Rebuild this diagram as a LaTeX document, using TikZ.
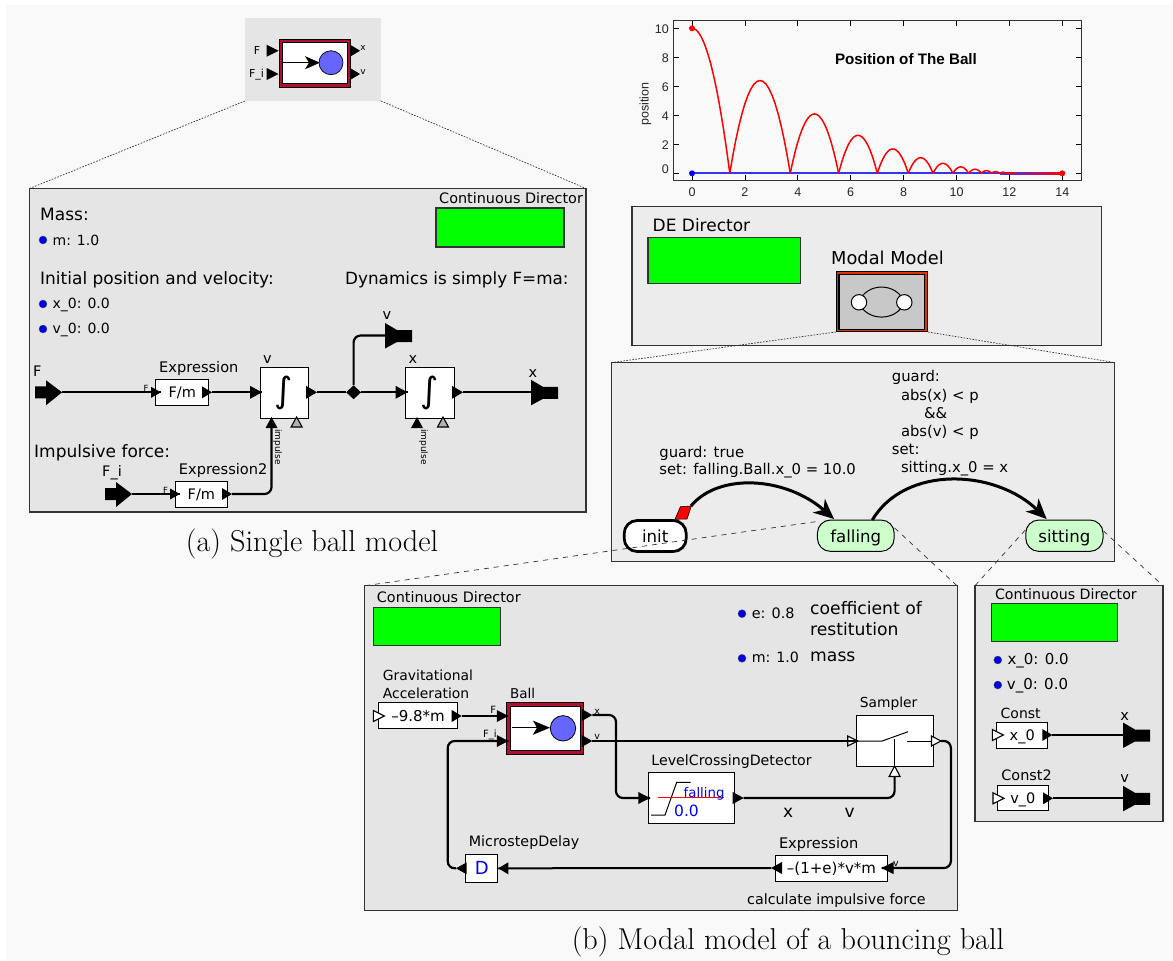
\documentclass[tikz,border=0pt]{standalone}
\usepackage{fontspec}
\setsansfont{DejaVu Sans}
\newfontfamily\plotfont{Liberation Sans}
\usetikzlibrary{arrows.meta,shapes.geometric}
\definecolor{bgpage}{HTML}{F9F9F9}
\definecolor{panelA}{HTML}{E5E5E5}
\definecolor{panelB}{HTML}{ECECEC}
\definecolor{dirgreen}{HTML}{00FF00}
\definecolor{ballred}{HTML}{B0102F}
\definecolor{ballblue}{HTML}{6666FF}
\definecolor{stategreen}{HTML}{CCFFCC}
\definecolor{modalred}{HTML}{DD3300}
\definecolor{modalgray}{HTML}{C8C8C8}
\definecolor{edgegray}{HTML}{333333}
\newcommand{\fsz}[1]{\fontsize{#1}{#1}\selectfont}
\newcommand{\vs}{\vphantom{Ag}}
% name, x, y, size, text : left-anchored label
\newcommand{\lbl}[5]{\node[txt,font=\sffamily\fsz{#4}] (#1) at (#2,#3) {\vs #5};}
% centred label
\newcommand{\clbl}[5]{\node[ctxt,font=\sffamily\fsz{#4}] (#1) at (#2,#3) {\vs #5};}
% horizontal port: name, tip x, y, dx (positive: points right), half height, style
\newcommand{\hport}[6]{\coordinate (#1) at (#2,#3); \path[#6] (#1) -- ++(-#4,-#5) -- ++(0,2*#5) -- cycle;}
% vertical port pointing up: name, x, tip y, height, half width, style
\newcommand{\vport}[6]{\coordinate (#1) at (#2,#3); \path[#6] (#1) -- ++(-#5,#4) -- ++(2*#5,0) -- cycle;}
\newcommand{\extin}[3]{\path[solidport] (#2,#3-6) -- ++(11,0) -- ++(0,-6) -- ++(16,12) -- ++(-16,13) -- ++(0,-7) -- ++(-11,0) -- cycle; \coordinate (#1) at (#2+27,#3);}
\newcommand{\extout}[3]{\coordinate (#1) at (#2,#3); \path[solidport] (#2,#3-12.5) -- ++(12,7) -- ++(15,0) -- ++(0,12) -- ++(-15,0) -- ++(-12,6.5) -- cycle;}
\newcommand{\dotp}[3]{\node[pdot] (#1) at (#2,#3) {};}
\begin{document}
\begin{tikzpicture}[x=1pt,y=-1pt,
  txt/.style={anchor=west,inner sep=0pt,text=black,yshift=-1.8pt},
  ctxt/.style={anchor=center,inner sep=0pt,text=black,yshift=-1.8pt},
  panela/.style={draw=edgegray,fill=panelA,line width=1.2pt},
  panelb/.style={draw=edgegray,fill=panelB,line width=1.2pt},
  director/.style={draw=edgegray,fill=dirgreen,line width=1.1pt},
  actor/.style={draw=black,fill=white,line width=.9pt,text depth=0pt},
  wire/.style={draw=black,line width=2pt},
  bendwire/.style={draw=black,line width=2.2pt,rounded corners=7pt},
  solidport/.style={fill=black},
  hollowport/.style={draw=black,fill=white,line width=1.1pt},
  grayport/.style={draw=black,fill=gray!60,line width=1.1pt},
  pdot/.style={circle,fill=blue!90!black,draw=black!70,line width=.3pt,minimum size=8pt,inner sep=0pt},
  dottedlink/.style={draw=black!80,line width=.7pt,dash pattern=on 1.6pt off 1.4pt},
  dashedlink/.style={draw=black!80,line width=.7pt,dash pattern=on 5pt off 5pt},
  plottext/.style={inner sep=0pt,font=\plotfont\fsz{12.5},text=black!85},
  tick/.style={draw=black,line width=.8pt},
  stateg/.style={draw=black,fill=stategreen,line width=1pt,rounded corners=13pt,text depth=0pt},
  trans/.style={draw=black,line width=3pt,-{Stealth[length=20pt,width=18pt,inset=6pt]}},
  caption/.style={inner sep=0pt,anchor=center}]
\useasboundingbox (0,0) rectangle (1173,961);
\fill[white] (0,0) rectangle (1173,961);
\fill[bgpage] (6,5) rectangle (1173,961);

%% ---------- thumbnail ball ----------
\fill[panelA] (245,18) rectangle (381,101);
\draw[dottedlink] (245,101) -- (29.5,188.5);
\draw[dottedlink] (381,101) -- (586,188.5);
\filldraw[draw=black,fill=ballred,line width=.5pt] (278.8,38.8) rectangle (350,87);
\filldraw[draw=black,fill=white,line width=.5pt] (282,42) rectangle (347,83);
\draw[line width=1.5pt,-{Stealth[length=15pt,width=13pt,inset=4pt]}] (283,62.7) -- (320,62.7);
\draw[fill=ballblue,draw=black,line width=.7pt] (331,62.7) circle [radius=12pt];
\hport{thF}{278.6}{50.7}{12}{6}{solidport}
\hport{thFi}{278.6}{74}{12}{6}{solidport}
\hport{thX}{360}{50.7}{10}{6}{solidport}
\hport{thV}{360}{74}{10}{6}{solidport}
\clbl{lthF}{257}{50}{11}{F}
\clbl{lthFi}{256.5}{73}{11}{F\_i}
\clbl{lthX}{363}{46}{9}{x}
\clbl{lthV}{363}{70}{9}{v}

%% ---------- plot ----------
\draw[edgegray,line width=1pt] (673.6,20.7) rectangle (1081.4,180);
\foreach \k in {0,2,...,14}{
  \draw[tick] ({692+26.45*\k},180) -- ++(0,-5);
  \draw[tick] ({692+26.45*\k},20.7) -- ++(0,5);
  \node[plottext] at ({692+26.45*\k},191.7) {\k};
}
\foreach \k/\ly in {0/169.3,2/145.3,4/116.3,6/87.3,8/58.3,10/29.3}{
  \draw[tick] (673.6,{173.3-14.5*\k}) -- ++(5,0);
  \draw[tick] (1081.4,{173.3-14.5*\k}) -- ++(-5,0);
  \node[plottext,anchor=east] at (669,\ly) {\k};
}
\node[plottext,rotate=90] (plotylab) at (645.4,104) {position};
\node[inner sep=0pt,font=\plotfont\bfseries\fsz{15.2}] (plottitle) at (906,58.7) {Position of The Ball};
\fill[blue!80] (692,172.3) rectangle (1062.3,174.3);
\shade[left color=blue!80,right color=red] (1000,172.3) rectangle (1062.3,174.3);
\draw[red,line width=1.5pt,line join=round] plot[domain=0:1,samples=30] ({692+26.45*1.4286*\x},{173.3-145*(1-\x*\x)});
\foreach \s/\T/\h in {1.4286/2.2857/6.4,3.7143/1.8286/4.096,5.5429/1.4629/2.621,7.0057/1.1703/1.678,8.1760/.9362/1.074,9.1122/.7490/.687,9.8612/.5992/.44,10.4604/.4794/.281,10.9398/.3835/.18,11.3233/.3068/.115,11.6301/.2454/.074,11.8755/.1964/.047,12.0719/.157/.03}{
  \draw[red,line width=1.5pt,line join=round] plot[domain=0:1,samples=21] ({692+26.45*(\s+\T*\x)},{173.3-14.5*\h*4*\x*(1-\x)});
}
\fill[red] (692,28.3) circle [radius=3pt];
\fill[blue] (692,173.3) circle [radius=3pt];
\fill[red] (1062.3,173.3) circle [radius=3pt];

%% ---------- panel (a) ----------
\path[panela] (29.5,188.7) rectangle (586,512);
\lbl{tCDa}{439}{198}{14.4}{Continuous Director}
\path[director] (436,208) rectangle (564,247);
\lbl{tMass}{40}{214}{17}{Mass:}
\dotp{dM}{43}{240}
\lbl{tM}{52.5}{239.5}{14}{m: 1.0}
\lbl{tInit}{40}{278}{17}{Initial position and velocity:}
\lbl{tDyn}{345}{278}{16.8}{Dynamics is simply F=ma:}
\dotp{dX}{43}{304}
\lbl{tX}{52.5}{303}{14}{x\_0: 0.0}
\dotp{dV}{43}{329}
\lbl{tV}{52.5}{328}{14}{v\_0: 0.0}
\lbl{tF}{33}{370.7}{14.5}{F}
\extin{inF}{35}{392.3}
\node[actor,minimum width=52.8pt,minimum height=25.6pt,inner sep=0pt,font=\sffamily\fsz{14.5}] (ex1) at (182.2,392.5) {F/m};
\lbl{tEx1}{159}{367}{14.6}{Expression}
\hport{ex1in}{161}{392.3}{10}{5.5}{solidport}
\hport{ex1out}{212}{392.3}{10}{6}{solidport}
\clbl{tEx1F}{146}{387}{8.5}{F}
\node[actor,minimum width=48.5pt,minimum height=51pt,inner sep=0pt] (int1) at (284.2,392.5) {};
\node[inner sep=0pt,font=\sffamily\fsz{35}] (int1s) at (284,393) {∫};
\node[actor,minimum width=49pt,minimum height=51pt,inner sep=0pt] (int2) at (430.2,392.5) {};
\node[inner sep=0pt,font=\sffamily\fsz{35}] (int2s) at (430,393) {∫};
\clbl{tv1}{267.5}{358}{14.5}{v}
\clbl{tx1}{413}{358}{14.5}{x}
\hport{i1in}{262}{392.3}{12}{6.5}{solidport}
\hport{i1out}{317}{392.3}{11}{6.5}{solidport}
\hport{i2in}{407.5}{392.3}{12}{6.5}{solidport}
\hport{i2out}{463}{392.3}{11}{6.5}{solidport}
\vport{i1imp}{271.5}{417}{11}{6}{solidport}
\vport{i2imp}{417}{417}{11}{6}{solidport}
\vport{i1trg}{296.6}{417}{10}{5.5}{grayport}
\vport{i2trg}{443}{417}{10}{5.5}{grayport}
\node[inner sep=0pt,rotate=-90,font=\sffamily\fsz{9}] (timp1) at (277.5,447) {impulse};
\node[inner sep=0pt,rotate=-90,font=\sffamily\fsz{9}] (timp2) at (423.5,447) {impulse};
\node[diamond,fill=black,minimum width=15pt,minimum height=14pt,inner sep=0pt] (dia) at (353.6,392.3) {};
\extout{outX}{531}{392.3}
\extout{outV}{385}{335.5}
\clbl{tXo}{533}{372}{14.5}{x}
\clbl{tVo}{387}{314}{14.5}{v}
\lbl{tImp}{34}{450.7}{17}{Impulsive force:}
\clbl{tFi}{112}{470.7}{14.5}{F\_i}
\extin{inFi}{105}{494}
\node[actor,minimum width=52.7pt,minimum height=25.4pt,inner sep=0pt,font=\sffamily\fsz{14.5}] (ex2) at (201.4,494.3) {F/m};
\lbl{tEx2}{178.7}{469}{14.6}{Expression2}
\hport{ex2in}{180}{494}{10}{5.5}{solidport}
\hport{ex2out}{232}{494}{10}{6}{solidport}
\clbl{tEx2F}{165.5}{489}{8.5}{F}
\draw[wire] (inF) -- (ex1in);
\draw[wire] (ex1out) -- (i1in);
\draw[wire] (i1out) -- (dia);
\draw[wire] (dia) -- (i2in);
\draw[wire] (i2out) -- (outX);
\draw[bendwire] (dia) |- (outV);
\draw[wire] (inFi) -- (ex2in);
\coordinate (i1impb) at (271.5,428);
\draw[bendwire] (ex2out) -| (i1impb);
\node[caption,font=\fsz{30.2}] (capa) at (312,543.5) {(a) Single ball model};

%% ---------- DE panel ----------
\path[panelb] (632,206.7) rectangle (1101.5,345.7);
\lbl{tDE}{652.5}{224.7}{17}{DE Director}
\path[director] (648,237.7) rectangle (800.6,283.7);
\lbl{tMM}{831}{258}{17.8}{Modal Model}
\node[draw=black,fill=modalred,line width=1.3pt,minimum width=91pt,minimum height=60pt,inner sep=0pt] (modal) at (882,301.8) {};
\node[draw=black,fill=modalgray,line width=1.3pt,minimum width=85.5pt,minimum height=55pt,inner sep=0pt] (modalin) at (881.8,302) {};
\draw[black,line width=1pt] (859,302.3) .. controls (866,282) and (897,282) .. (904.3,302.3);
\draw[black,line width=1pt] (859,302.3) .. controls (866,322) and (897,322) .. (904.3,302.3);
\draw[black,fill=white,line width=1pt] (859,302.3) circle [radius=7.7pt];
\draw[black,fill=white,line width=1pt] (904.3,302.3) circle [radius=7.7pt];
\draw[dottedlink] (836,332) -- (612,362.5);
\draw[dottedlink] (928,332) -- (1114.5,362.5);

%% ---------- modal panel ----------
\path[panelb] (611.7,362.7) rectangle (1114.6,561.3);
\lbl{g1}{891.7}{376}{14.8}{guard:}
\lbl{g2}{900.8}{394.7}{14.8}{abs(x) < p}
\lbl{g3}{923.8}{412.7}{14.8}{\&\&}
\lbl{g4}{900.8}{431}{14.8}{abs(v) < p}
\lbl{g5}{891.7}{449}{14.8}{set:}
\lbl{g6}{900.8}{467.3}{14.8}{sitting.x\_0 = x}
\lbl{g7}{659.2}{451.3}{14.8}{guard: true}
\lbl{g8}{659.2}{469.3}{14.8}{set: falling.Ball.x\_0 = 10.0}
\node[draw=black,fill=white,line width=2.8pt,rounded corners=13pt,minimum width=62pt,minimum height=31pt,inner sep=0pt,text depth=0pt,font=\sffamily\fsz{16.6}] (init) at (655.2,536) {init};
\node[stateg,minimum width=76.7pt,minimum height=31.3pt,inner sep=0pt,font=\sffamily\fsz{16.6}] (falling) at (855.8,535.7) {falling};
\node[stateg,minimum width=77.2pt,minimum height=31.3pt,inner sep=0pt,font=\sffamily\fsz{16.6}] (sitting) at (1064.4,535.7) {sitting};
\coordinate (tr1s) at (691,506);
\coordinate (tr1e) at (834,519);
\coordinate (tr2s) at (872.3,520);
\coordinate (tr2e) at (1046.6,519);
\draw[trans] (tr1s) .. controls (718,473) and (785,476) .. (tr1e);
\draw[trans] (tr2s) .. controls (905,465) and (995,469) .. (tr2e);
\filldraw[fill=red,draw=black,line width=.6pt] (675,519.3) -- (680.4,506.7) -- (691.4,506) -- (687,519) -- cycle;
\coordinate (zFa) at (365,585.7);
\coordinate (zFb) at (957,585.7);
\coordinate (zSa) at (975,585.7);
\coordinate (zSb) at (1163,585.7);
\draw[dashedlink] (zFa) -- (falling.west |- 0,521.5);
\draw[dashedlink] (falling.east |- 0,528) -- (zFb);
\draw[dashedlink] (sitting.west |- 0,530) -- (zSa);
\draw[dashedlink] (sitting.east |- 0,531) -- (zSb);

%% ---------- falling refinement ----------
\path[panela] (364.3,585.7) rectangle (957.3,910.7);
\lbl{tCDb}{376.7}{596.7}{14.4}{Continuous Director}
\path[director] (373.3,607.3) rectangle (500.7,645.7);
\lbl{tGr}{382.7}{674.7}{13.9}{Gravitational}
\lbl{tAc}{382.7}{692.7}{13.9}{Acceleration}
\node[actor,minimum width=79.4pt,minimum height=25.6pt,inner sep=0pt,font=\sffamily\fsz{15}] (grav) at (418,715.5) {–9.8*m};
\hport{gravin}{384.3}{716}{11}{5.5}{hollowport}
\hport{gravout}{461.7}{716}{10}{6}{solidport}
\lbl{tBall}{510}{692.7}{13.5}{Ball}
\filldraw[draw=black,fill=ballred,line width=.7pt] (506.7,702.7) rectangle (583.3,754);
\filldraw[draw=black,fill=white,line width=.7pt] (510,706) rectangle (580,750);
\draw[line width=1.5pt,-{Stealth[length=17pt,width=14pt,inset=4pt]}] (512,727.7) -- (550,727.7);
\draw[fill=ballblue,draw=black,line width=.8pt] (563,728.3) circle [radius=12.7pt];
\hport{bF}{508.3}{716}{11.5}{6}{solidport}
\hport{bFi}{508.3}{741}{11.5}{6}{solidport}
\hport{bX}{592.3}{715}{10.5}{6}{solidport}
\hport{bV}{592.3}{741}{10.5}{6}{solidport}
\clbl{tbF}{493.3}{709.5}{10}{F}
\clbl{tbFi}{490}{733}{10}{F\_i}
\clbl{tbX}{597.3}{710}{9.5}{x}
\clbl{tbV}{597.3}{735.5}{9.5}{v}
\draw[wire] (gravout) -- (bF);
\node[actor,minimum width=85.5pt,minimum height=51pt,inner sep=0pt] (lcd) at (691.5,798.2) {};
\lbl{tLCD}{651.2}{759.3}{14.2}{LevelCrossingDetector}
\draw[black,line width=1pt] (651,815) -- (665,815) -- (676.7,782.3) -- (690.7,782.3);
\draw[red,line width=1pt] (657.7,797.7) -- (724.4,797.7);
\lbl{tfall}{683.5}{791.7}{13.3}{\textcolor{blue}{falling}}
\lbl{tzero}{674}{810.3}{15.5}{\textcolor{blue}{0.0}}
\hport{lcdin}{650}{798}{11.7}{6}{solidport}
\hport{lcdout}{743.7}{798}{11}{6}{solidport}
\node[actor,minimum width=77pt,minimum height=50.6pt,inner sep=0pt] (samp) at (894.8,741) {};
\lbl{tSamp}{859.7}{702.3}{13.8}{Sampler}
\draw[black,line width=1pt] (857.7,741) -- (882.2,741) -- (908,731.7);
\draw[black,line width=1pt] (907,741) -- (930.8,741);
\draw[black,line width=1pt] (894.8,739.3) -- (894.8,766);
\hport{sin}{857.7}{741}{10}{5}{hollowport}
\hport{sout}{941}{741}{9.5}{5}{hollowport}
\vport{strg}{894.6}{766}{10.5}{5.5}{hollowport}
\coordinate (strgb) at (894.6,776.5);
\draw[wire] (bV) -- (sin);
\coordinate (xbend) at (616,798);
\draw[bendwire] (bX) -| (xbend) -- (lcdin);
\draw[bendwire] (lcdout) -| (strgb);
\lbl{tWx}{783}{811}{17}{x}
\lbl{tWv}{844.5}{811}{17}{v}
\node[actor,minimum width=111.6pt,minimum height=25.7pt,inner sep=0pt,font=\sffamily\fsz{15}] (imp) at (831.5,868.2) {–(1+e)*v*m};
\lbl{tEx3}{778.8}{842.3}{14.6}{Expression}
\hport{impin}{881.5}{868}{-12}{6}{solidport}
\hport{impout}{771}{868}{-11}{6}{solidport}
\clbl{tiv}{896}{862.7}{9.5}{v}
\coordinate (rbend) at (950.9,868);
\draw[bendwire] (sout) -| (rbend) -- (impin);
\lbl{tCalc}{747}{899}{14.3}{calculate impulsive force}
\node[actor,minimum width=32pt,minimum height=28.3pt,inner sep=0pt,font=\sffamily\fsz{18},text=blue] (delay) at (481.7,868.2) {D};
\lbl{tMS}{468.7}{841}{14.3}{MicrostepDelay}
\hport{din}{498.3}{868.3}{-10}{6}{solidport}
\hport{dout}{456}{868.3}{-10.7}{6}{solidport}
\draw[wire] (impout) -- (din);
\coordinate (lbend) at (447.7,741);
\draw[bendwire] (dout) -| (lbend) -- (bFi);
\dotp{de}{742}{613.7}
\lbl{te}{751.6}{612.7}{14.4}{e: 0.8}
\lbl{tcoef}{810}{607.7}{17.2}{coefficient of}
\lbl{trest}{810}{628.7}{17.2}{restitution}
\dotp{dm2}{742}{658.3}
\lbl{tm2}{751.6}{657}{14.2}{m: 1.0}
\lbl{tmass}{810}{655}{17.2}{mass}

%% ---------- sitting refinement ----------
\path[panela] (975,585.7) rectangle (1163,821.7);
\lbl{tCDc}{994.8}{593.3}{14.2}{Continuous Director}
\path[director] (991.7,603.3) rectangle (1117.6,641.3);
\dotp{dx0}{997.8}{660}
\lbl{tx0}{1007.3}{658.7}{15}{x\_0: 0.0}
\dotp{dv0}{997.8}{685}
\lbl{tv0}{1006.7}{684}{15}{v\_0: 0.0}
\lbl{tC1}{1000.5}{712.7}{14}{Const}
\node[actor,minimum width=50.7pt,minimum height=25.6pt,inner sep=0pt,font=\sffamily\fsz{14.5}] (c1) at (1022.2,735.5) {x\_0};
\hport{c1in}{1003.3}{735}{11}{5.5}{hollowport}
\hport{c1out}{1052.3}{735}{10}{6}{solidport}
\extout{c1o}{1123}{735}
\clbl{tC1x}{1124.7}{714.7}{14.5}{x}
\lbl{tC2}{1001.2}{775.3}{14.4}{Const2}
\node[actor,minimum width=50.2pt,minimum height=25pt,inner sep=0pt,font=\sffamily\fsz{14.5}] (c2) at (1022.9,798.2) {v\_0};
\hport{c2in}{1004}{798.3}{11}{5.5}{hollowport}
\hport{c2out}{1053}{798.3}{10}{6}{solidport}
\extout{c2o}{1123}{798.3}
\clbl{tC2v}{1124.7}{777.3}{14.5}{v}
\draw[wire] (c1out) -- (c1o);
\draw[wire] (c2out) -- (c2o);
\node[caption,font=\fsz{30.2}] (capb) at (788,941.8) {(b) Modal model of a bouncing ball};
\end{tikzpicture}
\end{document}
